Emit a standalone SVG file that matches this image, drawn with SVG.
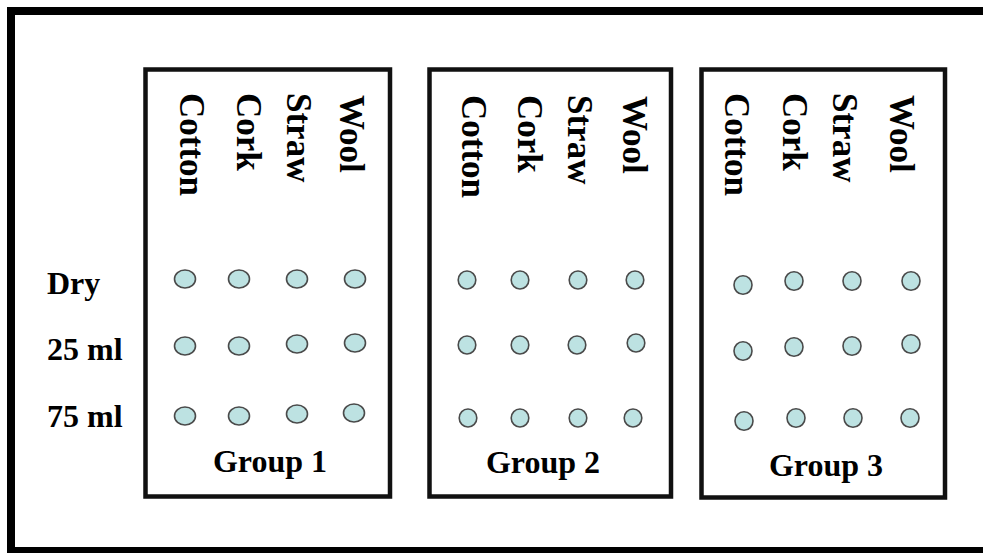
<svg xmlns="http://www.w3.org/2000/svg" width="983" height="553" viewBox="0 0 983 553">
<style>
.frame{fill:none;stroke:#000;stroke-width:8}
.box{fill:#fff;stroke:#111;stroke-width:4.5}
.t{font-family:"Liberation Serif","Times New Roman",serif;font-weight:bold;fill:#000}
.h{font-size:32px}
.v{font-size:35px}
.d{fill:#bde2e2;stroke:#4a4a4a;stroke-width:1.6}
</style>
<rect x="0" y="0" width="983" height="553" fill="#fff"/>
<rect class="frame" x="11" y="11" width="990" height="540"/>
<g id="labels">
<text class="t h" x="47" y="294">Dry</text>
<text class="t h" x="47" y="360">25 ml</text>
<text class="t h" x="47" y="427">75 ml</text>
</g>
<g id="group1">
<rect class="box" x="145.5" y="69.5" width="244.5" height="427"/>
<text class="t v" transform="translate(180,93) rotate(90)">Cotton</text>
<text class="t v" transform="translate(237,93) rotate(90)">Cork</text>
<text class="t v" transform="translate(287,93) rotate(90)">Straw</text>
<text class="t v" transform="translate(340,95) rotate(90)">Wool</text>
<ellipse class="d" cx="185" cy="279" rx="10.5" ry="9"/>
<ellipse class="d" cx="239" cy="279" rx="10.5" ry="9"/>
<ellipse class="d" cx="297" cy="279" rx="10.5" ry="9"/>
<ellipse class="d" cx="355" cy="279" rx="10.5" ry="9"/>
<ellipse class="d" cx="185" cy="346" rx="10.5" ry="9"/>
<ellipse class="d" cx="239" cy="346" rx="10.5" ry="9"/>
<ellipse class="d" cx="297" cy="344" rx="10.5" ry="9"/>
<ellipse class="d" cx="355" cy="343" rx="10.5" ry="9"/>
<ellipse class="d" cx="185" cy="416" rx="10.5" ry="9"/>
<ellipse class="d" cx="239" cy="416" rx="10.5" ry="9"/>
<ellipse class="d" cx="297" cy="414" rx="10.5" ry="9"/>
<ellipse class="d" cx="354" cy="413" rx="10.5" ry="9"/>
<text class="t h" x="270" y="472" text-anchor="middle">Group 1</text>
</g>
<g id="group2">
<rect class="box" x="429.5" y="69.5" width="241.5" height="427"/>
<text class="t v" transform="translate(462,95) rotate(90)">Cotton</text>
<text class="t v" transform="translate(518,95) rotate(90)">Cork</text>
<text class="t v" transform="translate(568,95) rotate(90)">Straw</text>
<text class="t v" transform="translate(623,96) rotate(90)">Wool</text>
<ellipse class="d" cx="467" cy="280" rx="8.8" ry="9"/>
<ellipse class="d" cx="520" cy="280" rx="8.8" ry="9"/>
<ellipse class="d" cx="578" cy="280" rx="8.8" ry="9"/>
<ellipse class="d" cx="635" cy="280" rx="8.8" ry="9"/>
<ellipse class="d" cx="467" cy="345" rx="8.8" ry="9"/>
<ellipse class="d" cx="520" cy="345" rx="8.8" ry="9"/>
<ellipse class="d" cx="577" cy="345" rx="8.8" ry="9"/>
<ellipse class="d" cx="636" cy="343" rx="8.8" ry="9"/>
<ellipse class="d" cx="468" cy="418" rx="8.8" ry="9"/>
<ellipse class="d" cx="520" cy="418" rx="8.8" ry="9"/>
<ellipse class="d" cx="578" cy="418" rx="8.8" ry="9"/>
<ellipse class="d" cx="633" cy="418" rx="8.8" ry="9"/>
<text class="t h" x="543" y="473" text-anchor="middle">Group 2</text>
</g>
<g id="group3">
<rect class="box" x="701.5" y="69.5" width="243.5" height="428"/>
<text class="t v" transform="translate(725,93) rotate(90)">Cotton</text>
<text class="t v" transform="translate(783,93) rotate(90)">Cork</text>
<text class="t v" transform="translate(833,93) rotate(90)">Straw</text>
<text class="t v" transform="translate(890,95) rotate(90)">Wool</text>
<ellipse class="d" cx="743" cy="285" rx="9" ry="9.3"/>
<ellipse class="d" cx="794" cy="281" rx="9" ry="9.3"/>
<ellipse class="d" cx="852" cy="281" rx="9" ry="9.3"/>
<ellipse class="d" cx="911" cy="281" rx="9" ry="9.3"/>
<ellipse class="d" cx="743" cy="351" rx="9" ry="9.3"/>
<ellipse class="d" cx="794" cy="347" rx="9" ry="9.3"/>
<ellipse class="d" cx="852" cy="346" rx="9" ry="9.3"/>
<ellipse class="d" cx="911" cy="344" rx="9" ry="9.3"/>
<ellipse class="d" cx="744" cy="421" rx="9" ry="9.3"/>
<ellipse class="d" cx="796" cy="418" rx="9" ry="9.3"/>
<ellipse class="d" cx="853" cy="418" rx="9" ry="9.3"/>
<ellipse class="d" cx="910" cy="418" rx="9" ry="9.3"/>
<text class="t h" x="826" y="476" text-anchor="middle">Group 3</text>
</g>
<g id="connectors"></g>
</svg>
